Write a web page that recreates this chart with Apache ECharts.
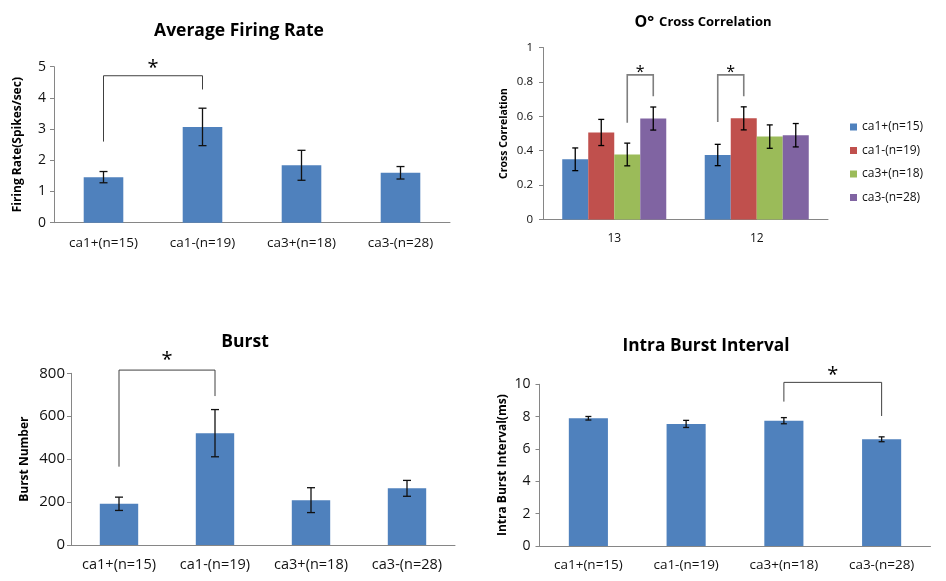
<!DOCTYPE html>
<html><head><meta charset="utf-8">
<script src="https://cdn.jsdelivr.net/npm/echarts@6/dist/echarts.min.js"></script>
<style>html,body{margin:0;padding:0;background:#fff}#c{width:946px;height:581px}</style>
</head><body><div id="c"></div>
<script>
// ---------- data ----------
const groups = ['ca1+(n=15)', 'ca1-(n=19)', 'ca3+(n=18)', 'ca3-(n=28)'];

const firingMean = [1.46, 3.07, 1.84, 1.60];
const firingErr  = [0.18, 0.60, 0.48, 0.20];
const firingSig  = [[0, 0, 1, 0, 4.71, 2.60, 4.27]]; // [catA, barA, catB, barB, top, leftBottom, rightBottom]

const ccCategories = ['13', '12'];
const ccCa1Pos = [0.350, 0.375];
const ccCa1Neg = [0.506, 0.588];
const ccCa3Pos = [0.378, 0.482];
const ccCa3Neg = [0.587, 0.490];
const ccCa1PosErr = [0.066, 0.062];
const ccCa1NegErr = [0.076, 0.067];
const ccCa3PosErr = [0.066, 0.068];
const ccCa3NegErr = [0.067, 0.068];
const ccSig = [[0, 2, 0, 3, 0.841, 0.562, 0.717], [1, 0, 1, 1, 0.841, 0.567, 0.717]];

const burstMean = [192, 521, 209, 264];
const burstErr  = [31, 110, 58, 37];
const burstSig  = [[0, 0, 1, 0, 815, 365, 694]];

const ibiMean = [7.90, 7.55, 7.75, 6.60];
const ibiErr  = [0.11, 0.22, 0.19, 0.15];
const ibiSig  = [[2, 0, 3, 0, 10.12, 8.93, 8.04]];

// ---------- style ----------
const FONT = '"Open Sans", "Noto Sans", sans-serif';
const AXIS_COLOR = '#868686';
const BAR_BLUE = '#4F81BD';
const CC_COLORS = ['#4F81BD', '#C0504D', '#9BBB59', '#8064A2'];
const CC_GAP = 0.27;

function barOffset(api, idx, n) {
  if (n === 1) return 0;
  const catW = api.size([1, 0])[0];
  const groupW = catW * (1 - CC_GAP);
  const bw = groupW / n;
  return -groupW / 2 + (idx + 0.5) * bw;
}

function errorBarSeries(gi, data, barIdx, nBars, cap, color) {
  return {
    type: 'custom', xAxisIndex: gi, yAxisIndex: gi, z: 10, silent: true,
    data: data,
    encode: { x: 0, y: [1, 2] },
    renderItem: function (params, api) {
      const cat = api.value(0);
      const lo = api.coord([cat, api.value(1)]);
      const hi = api.coord([cat, api.value(2)]);
      const x = lo[0] + barOffset(api, barIdx, nBars);
      const st = { stroke: color, lineWidth: 1.3 };
      return { type: 'group', children: [
        { type: 'line', shape: { x1: x, y1: lo[1], x2: x, y2: hi[1] }, style: st },
        { type: 'line', shape: { x1: x - cap, y1: lo[1], x2: x + cap, y2: lo[1] }, style: st },
        { type: 'line', shape: { x1: x - cap, y1: hi[1], x2: x + cap, y2: hi[1] }, style: st }
      ]};
    }
  };
}

function sigSeries(gi, data, nBars, color, lw, starSize, starShift) {
  return {
    type: 'custom', xAxisIndex: gi, yAxisIndex: gi, z: 12, silent: true, clip: false,
    data: data,
    encode: { x: 0, y: 4 },
    renderItem: function (params, api) {
      const a = api.coord([api.value(0), api.value(4)]);
      const b = api.coord([api.value(2), api.value(4)]);
      const xa = a[0] + barOffset(api, api.value(1), nBars);
      const xb = b[0] + barOffset(api, api.value(3), nBars);
      const yTop = a[1];
      const yl = api.coord([api.value(0), api.value(5)])[1];
      const yr = api.coord([api.value(2), api.value(6)])[1];
      return { type: 'group', children: [
        { type: 'polyline', shape: { points: [[xa, yl], [xa, yTop], [xb, yTop], [xb, yr]] },
          style: { stroke: color, lineWidth: lw, fill: null } },
        { type: 'text', x: (xa + xb) / 2, y: yTop + starShift,
          style: { text: '*', fontSize: starSize, fontFamily: FONT, fill: '#000', align: 'center', verticalAlign: 'bottom' } }
      ]};
    }
  };
}

function xAxis(gi, data, fs, margin) {
  return {
    type: 'category', gridIndex: gi, data: data,
    axisLine: { show: true, lineStyle: { color: AXIS_COLOR } },
    axisTick: { show: false },
    axisLabel: { fontSize: fs, color: '#111', margin: margin, fontFamily: FONT, interval: 0 },
    splitLine: { show: false }
  };
}
function yAxis(gi, max, interval, name, nameGap, fs, nameFs, margin) {
  return {
    type: 'value', gridIndex: gi, min: 0, max: max, interval: interval,
    name: name, nameLocation: 'middle', nameGap: nameGap,
    nameTextStyle: { fontWeight: 'bold', fontSize: nameFs, color: '#000', fontFamily: FONT },
    axisLine: { show: true, lineStyle: { color: AXIS_COLOR } },
    axisTick: { show: true, length: 4, lineStyle: { color: AXIS_COLOR } },
    axisLabel: { fontSize: fs, color: '#111', margin: margin, fontFamily: FONT },
    splitLine: { show: false }
  };
}

const titleStyle = (fs) => ({ fontSize: fs, fontWeight: 'bold', color: '#000', fontFamily: FONT });

const ccMeans = [ccCa1Pos, ccCa1Neg, ccCa3Pos, ccCa3Neg];
const ccErrs = [ccCa1PosErr, ccCa1NegErr, ccCa3PosErr, ccCa3NegErr];

const series = [];
// panel 0: firing rate
series.push({ type: 'bar', xAxisIndex: 0, yAxisIndex: 0, data: firingMean, barWidth: '40%', itemStyle: { color: BAR_BLUE } });
series.push(errorBarSeries(0, firingMean.map((m, i) => [i, m - firingErr[i], m + firingErr[i]]), 0, 1, 4, '#111'));
series.push(sigSeries(0, firingSig, 1, '#404040', 1, 20, 3));
// panel 1: cross correlation
groups.forEach((g, k) => {
  series.push({ type: 'bar', name: g, xAxisIndex: 1, yAxisIndex: 1, data: ccMeans[k],
    barGap: 0, barCategoryGap: (CC_GAP * 100) + '%', itemStyle: { color: CC_COLORS[k] } });
});
groups.forEach((g, k) => {
  series.push(errorBarSeries(1, ccMeans[k].map((m, i) => [i, m - ccErrs[k][i], m + ccErrs[k][i]]), k, 4, 3, '#000'));
});
series.push(sigSeries(1, ccSig, 4, '#7f7f7f', 1.6, 16, 5.5));
// panel 2: burst
series.push({ type: 'bar', xAxisIndex: 2, yAxisIndex: 2, data: burstMean, barWidth: '40%', itemStyle: { color: BAR_BLUE } });
series.push(errorBarSeries(2, burstMean.map((m, i) => [i, m - burstErr[i], m + burstErr[i]]), 0, 1, 4, '#111'));
series.push(sigSeries(2, burstSig, 1, '#404040', 1, 20, 0.5));
// panel 3: intra burst interval
series.push({ type: 'bar', xAxisIndex: 3, yAxisIndex: 3, data: ibiMean, barWidth: '40%', itemStyle: { color: BAR_BLUE } });
series.push(errorBarSeries(3, ibiMean.map((m, i) => [i, m - ibiErr[i], m + ibiErr[i]]), 0, 1, 3, '#111'));
series.push(sigSeries(3, ibiSig, 1, '#404040', 1, 20, 3));

const option = {
  animation: false,
  backgroundColor: '#fff',
  title: [
    { text: 'Average Firing Rate', left: 234, top: 17, textAlign: 'center', textStyle: titleStyle(17.5) },
    { text: '{a|O°} {b|Cross Correlation}', left: 698, top: 8, textAlign: 'center',
      textStyle: { rich: {
        a: { fontSize: 16, color: '#000', fontFamily: FONT },
        b: { fontSize: 13, fontWeight: 'bold', color: '#000', fontFamily: FONT }
      } } },
    { text: 'Burst', left: 240, top: 328, textAlign: 'center', textStyle: titleStyle(17.5) },
    { text: 'Intra Burst Interval', left: 701, top: 333, textAlign: 'center', textStyle: titleStyle(17.3) }
  ],
  legend: {
    data: groups, orient: 'vertical', left: 845, top: 116,
    icon: 'rect', itemWidth: 7, itemHeight: 7, itemGap: 11.5,
    textStyle: { fontSize: 12, color: '#111', fontFamily: FONT }
  },
  grid: [
    { left: 54, top: 66.7, width: 396, height: 156 },
    { left: 543, top: 47.5, width: 285, height: 172 },
    { left: 71, top: 373.3, width: 384, height: 171.7 },
    { left: 539.5, top: 384.3, width: 391, height: 161.7 }
  ],
  xAxis: [
    xAxis(0, groups, 13.5, 13),
    xAxis(1, ccCategories, 12, 13),
    xAxis(2, groups, 14.5, 12),
    xAxis(3, groups, 13.5, 12)
  ],
  yAxis: [
    yAxis(0, 5, 1, 'Firing Rate(Spikes/sec)', 30, 14, 12, 8),
    yAxis(1, 1, 0.2, 'Cross Correlation', 33, 11.5, 10.5, 10),
    yAxis(2, 800, 200, 'Burst Number', 40, 15, 12, 6),
    yAxis(3, 10, 2, 'Intra Burst Interval(ms)', 31, 14, 12, 9)
  ],
  series: series
};

const chart = echarts.init(document.getElementById('c'), null, { renderer: 'canvas' });
chart.setOption(option);
</script>
</body></html>
